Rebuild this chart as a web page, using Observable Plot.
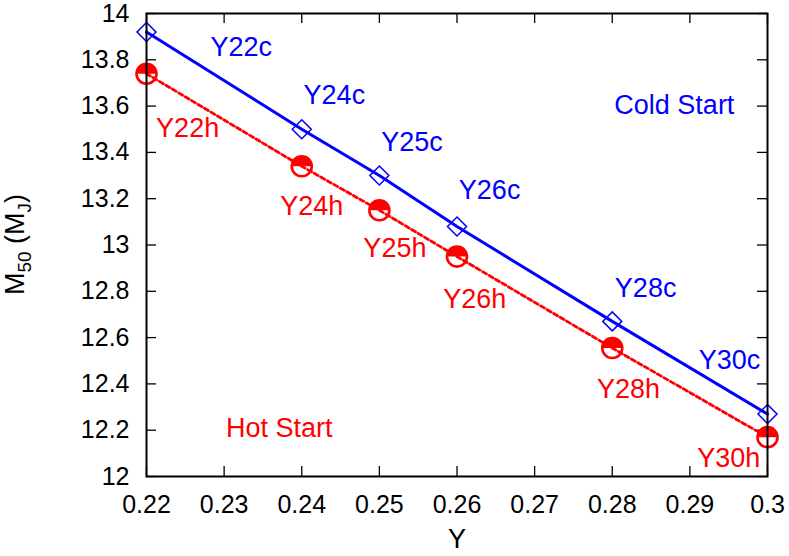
<!DOCTYPE html>
<html>
<head>
<meta charset="utf-8">
<script src="https://cdn.jsdelivr.net/npm/d3@7"></script>
<script src="https://cdn.jsdelivr.net/npm/@observablehq/plot@0.6"></script>
<style>
  html, body { margin: 0; padding: 0; background: #fff; }
  svg { display: block; }
</style>
</head>
<body>
<div id="chart"></div>
<script>
// ---- data ----
const heliumY = [0.22, 0.24, 0.25, 0.26, 0.28, 0.30];
const coldM50 = [13.92, 13.50, 13.30, 13.08, 12.67, 12.27];
const hotM50  = [13.74, 13.34, 13.15, 12.95, 12.555, 12.17];
const coldNames = ["Y22c", "Y24c", "Y25c", "Y26c", "Y28c", "Y30c"];
const hotNames  = ["Y22h", "Y24h", "Y25h", "Y26h", "Y28h", "Y30h"];
// label anchor points (data coordinates, like gnuplot "set label at")
const coldLabelX = [0.2322, 0.2442, 0.2542, 0.2642, 0.2843, 0.2951];
const coldLabelY = [13.853, 13.645, 13.442, 13.234, 12.814, 12.502];
const hotLabelX  = [0.2253, 0.2413, 0.2520, 0.2623, 0.2821, 0.2950];
const hotLabelY  = [13.502, 13.165, 12.987, 12.766, 12.377, 12.078];
const noteText = ["Cold Start", "Hot Start"];
const noteX = [0.2880, 0.2371];
const noteY = [13.602, 12.208];
const xTicks = [0.22, 0.23, 0.24, 0.25, 0.26, 0.27, 0.28, 0.29, 0.30];
const yTicks = [12, 12.2, 12.4, 12.6, 12.8, 13, 13.2, 13.4, 13.6, 13.8, 14];

// ---- tables ----
const cold = heliumY.map((y, i) => ({Y: y, M: coldM50[i]}));
const hot = heliumY.map((y, i) => ({Y: y, M: hotM50[i]}));
const coldLab = coldNames.map((t, i) => ({t, x: coldLabelX[i], y: coldLabelY[i]}));
const hotLab = hotNames.map((t, i) => ({t, x: hotLabelX[i], y: hotLabelY[i]}));
const notes = noteText.map((t, i) => ({t, x: noteX[i], y: noteY[i]}));

const BLUE = "#0000ff", RED = "#ff0000";
const W = 789, H = 556, mT = 13, mB = 80, mL = 146, mR = 22;
const innerH = H - mT - mB, innerW = W - mL - mR;
const TICK = 10;
const FONT = "'Liberation Sans', Arial, Helvetica, sans-serif";

const diamond = {
  draw(ctx, size) {
    const r = Math.sqrt(size / Math.PI);
    ctx.moveTo(0, -r); ctx.lineTo(r, 0); ctx.lineTo(0, r); ctx.lineTo(-r, 0); ctx.closePath();
  }
};
const upperHalf = {
  draw(ctx, size) {
    const r = Math.sqrt(size / Math.PI);
    ctx.moveTo(-r, 0);
    ctx.arc(0, 0, r, Math.PI, 2 * Math.PI);
    ctx.closePath();
  }
};
const fmt = d => String(+(+d).toFixed(2));

const plot = Plot.plot({
  width: W, height: H,
  marginTop: mT, marginBottom: mB, marginLeft: mL, marginRight: mR,
  style: {fontFamily: FONT, fontSize: "25px", color: "black", background: "white"},
  x: {domain: [0.22, 0.30]},
  y: {domain: [12, 14]},
  marks: [
    // inward ticks (bottom, top, left, right)
    Plot.tickX(xTicks, {x: d => d, stroke: "black", strokeWidth: 1.3, insetTop: innerH - TICK}),
    Plot.tickX(xTicks, {x: d => d, stroke: "black", strokeWidth: 1.3, insetBottom: innerH - TICK}),
    Plot.tickY(yTicks, {y: d => d, stroke: "black", strokeWidth: 1.3, insetRight: innerW - TICK}),
    Plot.tickY(yTicks, {y: d => d, stroke: "black", strokeWidth: 1.3, insetLeft: innerW - TICK}),
    Plot.axisX(xTicks, {tickSize: 0, tickPadding: 19, tickFormat: fmt, fontSize: 25, label: null}),
    Plot.axisY(yTicks, {tickSize: 0, tickPadding: 17, tickFormat: fmt, fontSize: 25, label: null}),
    // series
    Plot.line(hot, {x: "Y", y: "M", stroke: RED, strokeWidth: 2.8, strokeDasharray: "4.5,3"}),
    Plot.line(cold, {x: "Y", y: "M", stroke: BLUE, strokeWidth: 3}),
    Plot.dot(cold, {x: "Y", y: "M", symbol: diamond, r: 9.5, fill: "none", stroke: BLUE, strokeWidth: 1.5}),
    Plot.dot(hot, {x: "Y", y: "M", symbol: upperHalf, r: 10, fill: RED, stroke: "none"}),
    Plot.dot(hot, {x: "Y", y: "M", r: 10, fill: "none", stroke: RED, strokeWidth: 2.6}),
    // labels
    Plot.text(coldLab, {x: "x", y: "y", text: "t", fill: BLUE, fontSize: 27}),
    Plot.text(hotLab, {x: "x", y: "y", text: "t", fill: RED, fontSize: 27}),
    Plot.text(notes.slice(0, 1), {x: "x", y: "y", text: "t", fill: BLUE, fontSize: 27}),
    Plot.text(notes.slice(1), {x: "x", y: "y", text: "t", fill: RED, fontSize: 27}),
    Plot.text(["Y"], {frameAnchor: "bottom", dy: 71, fontSize: 27, fill: "black"}),
    Plot.frame({stroke: "black", strokeWidth: 2})
  ]
});

// y-axis title with subscripts
const svg = d3.select(plot);
const yl = svg.append("text")
  .attr("transform", `translate(24, ${mT + innerH / 2}) rotate(-90)`)
  .attr("text-anchor", "middle")
  .attr("font-family", FONT)
  .attr("font-size", 27)
  .attr("fill", "black");
yl.append("tspan").text("M");
yl.append("tspan").attr("font-size", 19).attr("dy", 7).text("50");
yl.append("tspan").attr("dy", -7).text(" (M");
yl.append("tspan").attr("font-size", 19).attr("dy", 7).text("J");
yl.append("tspan").attr("dy", -7).text(")");

document.getElementById("chart").appendChild(plot);
</script>
</body>
</html>
